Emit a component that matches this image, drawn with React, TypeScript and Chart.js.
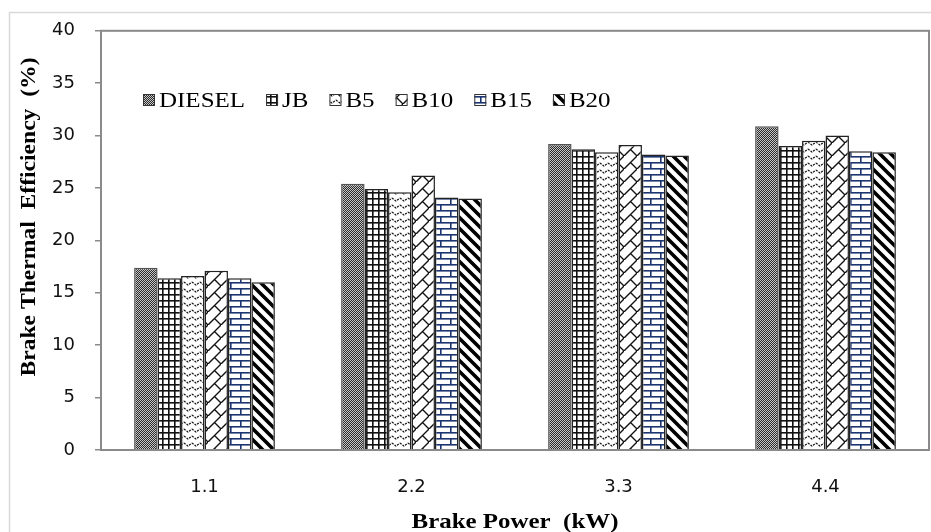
import React, { useEffect, useRef } from "react";
import { Chart, registerables } from "chart.js";

Chart.register(...registerables);

const categories = ["1.1", "2.2", "3.3", "4.4"];
const seriesNames = ["DIESEL", "JB", "B5", "B10", "B15", "B20"];
const diesel = [17.4, 25.4, 29.2, 30.9];
const jb = [16.4, 24.9, 28.7, 29.0];
const b5 = [16.6, 24.6, 28.4, 29.5];
const b10 = [17.1, 26.2, 29.1, 30.0];
const b15 = [16.4, 24.1, 28.2, 28.5];
const b20 = [16.0, 24.0, 28.1, 28.4];
const seriesValues = [diesel, jb, b5, b10, b15, b20];
const yTicks = [0, 5, 10, 15, 20, 25, 30, 35, 40];
const xTitle = "Brake Power  (kW)";
const yTitle = "Brake Thermal  Efficiency  (%)";

function tile(w: number, h: number, draw: (c: CanvasRenderingContext2D) => void): CanvasPattern {
  const cv = document.createElement("canvas");
  cv.width = w;
  cv.height = h;
  const c = cv.getContext("2d") as CanvasRenderingContext2D;
  c.fillStyle = "#ffffff";
  c.fillRect(0, 0, w, h);
  draw(c);
  return c.createPattern(cv, "repeat") as CanvasPattern;
}

function makePatterns(): CanvasPattern[] {
  const dieselP = tile(2, 2, (c) => {
    c.fillStyle = "#2a2a2a";
    c.fillRect(0, 0, 2, 2);
    c.fillStyle = "#c8c8c8";
    c.fillRect(0, 0, 1, 1);
    c.fillRect(1, 1, 1, 1);
  });
  const jbP = tile(6, 6, (c) => {
    c.fillStyle = "#111";
    c.fillRect(0, 0, 6, 1.6);
    c.fillRect(0, 0, 1.6, 6);
  });
  const b5P = tile(8, 7, (c) => {
    c.strokeStyle = "#111";
    c.lineWidth = 1.3;
    c.setLineDash([2, 1.2]);
    c.beginPath();
    c.moveTo(0, 2);
    c.lineTo(4, 5);
    c.lineTo(8, 2);
    c.stroke();
  });
  const b10P = tile(13, 13, (c) => {
    c.strokeStyle = "#111";
    c.lineWidth = 1.4;
    c.beginPath();
    c.moveTo(0, 13);
    c.lineTo(13, 0);
    c.moveTo(6.5, 6.5);
    c.lineTo(13, 13);
    c.stroke();
  });
  const b15P = tile(20, 12, (c) => {
    c.fillStyle = "#1c3470";
    c.fillRect(0, 0, 20, 1.6);
    c.fillRect(0, 6, 20, 1.6);
    c.fillRect(0, 0, 1.6, 6);
    c.fillRect(10, 6, 1.6, 6);
  });
  const b20P = tile(11, 11, (c) => {
    c.strokeStyle = "#000";
    c.lineWidth = 3.6;
    c.beginPath();
    c.moveTo(-5.5, -5.5);
    c.lineTo(16.5, 16.5);
    c.moveTo(-5.5, 5.5);
    c.lineTo(5.5, 16.5);
    c.moveTo(5.5, -5.5);
    c.lineTo(16.5, 5.5);
    c.stroke();
  });
  return [dieselP, jbP, b5P, b10P, b15P, b20P];
}

function stretchedText(
  ctx: CanvasRenderingContext2D,
  text: string,
  x: number,
  y: number,
  font: string,
  sx: number,
  align: CanvasTextAlign
) {
  ctx.save();
  ctx.font = font;
  ctx.textAlign = align;
  ctx.textBaseline = "alphabetic";
  ctx.translate(x, y);
  ctx.scale(sx, 1);
  ctx.fillText(text, 0, 0);
  ctx.restore();
}

export default function App() {
  const ref = useRef<HTMLCanvasElement | null>(null);

  useEffect(() => {
    if (!ref.current) return;
    const patterns = makePatterns();
    const borderColors = ["#555", "#222", "#222", "#222", "#222", "#222"];

    const decor = {
      id: "decor",
      beforeDraw(chart: any) {
        const ctx = chart.ctx as CanvasRenderingContext2D;
        ctx.save();
        ctx.fillStyle = "#fff";
        ctx.fillRect(0, 0, chart.width, chart.height);
        ctx.strokeStyle = "#d9d9d9";
        ctx.lineWidth = 1.5;
        ctx.strokeRect(9.5, 12.5, 1000, 1000);
        ctx.restore();
      },
      afterDatasetsDraw(chart: any) {
        const ctx = chart.ctx as CanvasRenderingContext2D;
        const a = chart.chartArea;
        ctx.save();
        ctx.strokeStyle = "#8a8a8a";
        ctx.lineWidth = 2;
        ctx.strokeRect(a.left, a.top, a.right - a.left, a.bottom - a.top);
        ctx.restore();
      },
      afterDraw(chart: any) {
        const ctx = chart.ctx as CanvasRenderingContext2D;
        const a = chart.chartArea;
        ctx.save();
        ctx.fillStyle = "#111";
        // legend
        const lfont = "21px 'Liberation Serif'";
        const sx = 1.19;
        let x = a.left + 42;
        const base = 107;
        ctx.font = lfont;
        seriesNames.forEach((name, i) => {
          ctx.fillStyle = patterns[i];
          ctx.fillRect(x, base - 13, 12, 12);
          ctx.strokeStyle = "#333";
          ctx.lineWidth = 1;
          ctx.strokeRect(x + 0.5, base - 12.5, 11, 11);
          x += 16;
          ctx.font = lfont;
          const w = ctx.measureText(name).width * sx;
          ctx.fillStyle = "#000";
          stretchedText(ctx, name, x, base, lfont, sx, "left");
          x += w + 21;
        });
        // x title
        ctx.fillStyle = "#000";
        const tfont = "bold 22px 'Liberation Serif'";
        ctx.font = tfont;
        const xw = ctx.measureText(xTitle).width;
        stretchedText(ctx, xTitle, (a.left + a.right) / 2, 528, tfont, 207 / xw, "center");
        // y title
        const yw = ctx.measureText(yTitle).width;
        ctx.save();
        ctx.translate(35, 217);
        ctx.rotate(-Math.PI / 2);
        stretchedText(ctx, yTitle, 0, 0, tfont, 319 / yw, "center");
        ctx.restore();
        ctx.restore();
      },
    };

    const chart = new Chart(ref.current, {
      type: "bar",
      data: {
        labels: categories,
        datasets: seriesNames.map((name, i) => ({
          label: name,
          data: seriesValues[i],
          backgroundColor: patterns[i] as any,
          borderColor: borderColors[i],
          borderWidth: 1.5,
          categoryPercentage: 0.68,
          barPercentage: 1,
        })),
      },
      options: {
        responsive: false,
        animation: false,
        devicePixelRatio: 1,
        layout: { padding: { top: 30, right: 2, left: 0, bottom: 0 } },
        plugins: {
          legend: { display: false },
          tooltip: { enabled: false },
        },
        scales: {
          x: {
            grid: { display: false, drawTicks: false },
            border: { display: false },
            ticks: {
              padding: 27,
              color: "#111",
              font: { family: "'DejaVu Sans'", size: 18 },
            },
            afterFit(scale: any) {
              scale.height = 82;
            },
          },
          y: {
            min: 0,
            max: 40,
            grid: {
              drawOnChartArea: false,
              drawTicks: true,
              tickLength: 6,
              color: "#8a8a8a",
              lineWidth: 1.5,
            },
            border: { display: false },
            afterBuildTicks(scale: any) {
              scale.ticks = yTicks.map((v) => ({ value: v }));
            },
            ticks: {
              padding: 20,
              color: "#111",
              font: { family: "'DejaVu Sans'", size: 18 },
            },
            afterFit(scale: any) {
              scale.width = 101;
            },
          },
        },
      },
      plugins: [decor],
    });
    return () => chart.destroy();
  }, []);

  return (
    <div style={{ position: "fixed", left: 0, top: 0, width: 931, height: 532, background: "#fff" }}>
      <canvas ref={ref} width={931} height={532} style={{ display: "block" }} />
    </div>
  );
}
